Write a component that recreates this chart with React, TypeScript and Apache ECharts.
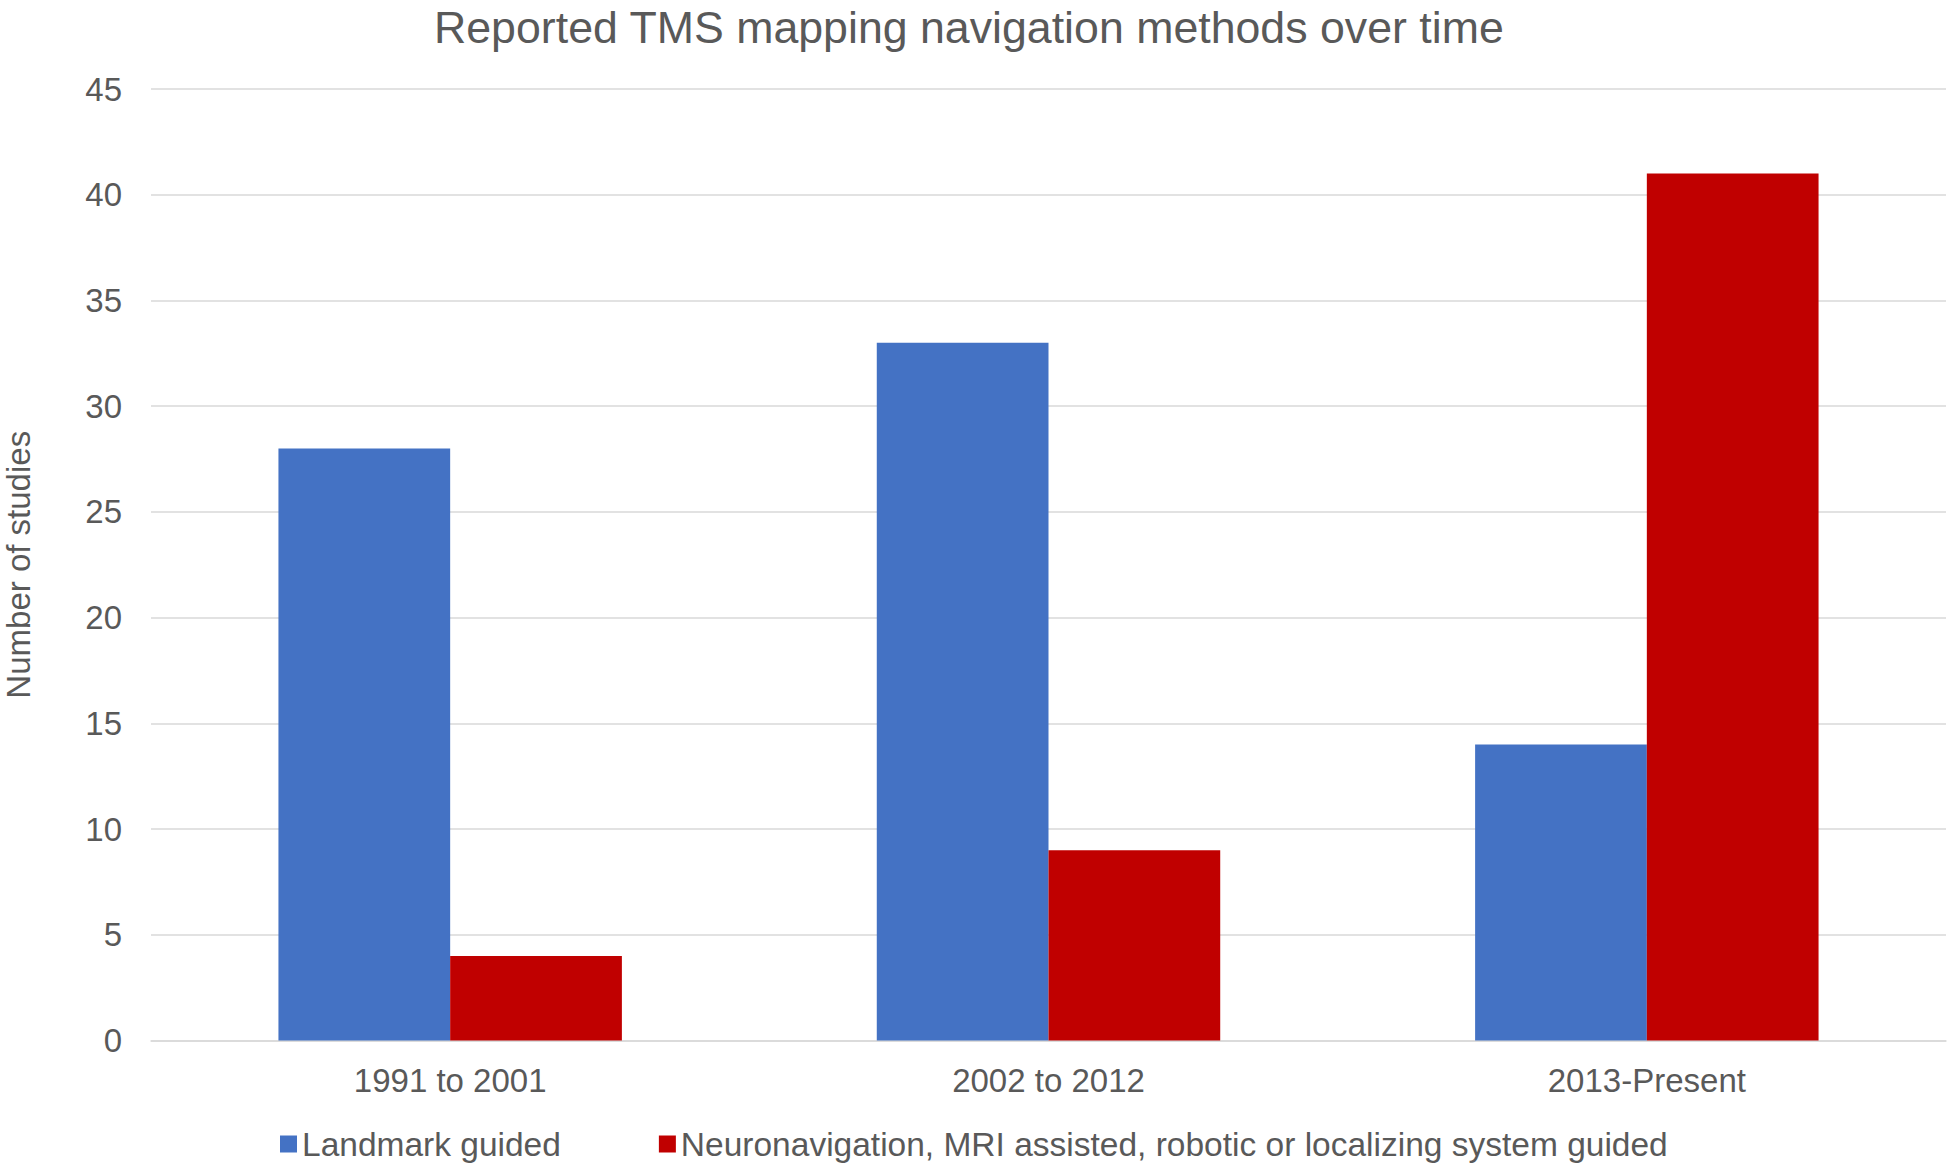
import React, { useEffect, useRef } from "react";
import * as echarts from "echarts";

const title = "Reported TMS mapping navigation methods over time";
const categories = ["1991 to 2001", "2002 to 2012", "2013-Present"];
const landmarkName = "Landmark guided";
const neuroName = "Neuronavigation, MRI assisted, robotic or localizing system guided";
const landmarkValues = [28, 33, 14];
const neuroValues = [4, 9, 41];
const yAxisName = "Number of studies";

const FONT = "'Liberation Sans', Arial, sans-serif";
const TEXT = "#595959";
const GRID = "#D9D9D9";

export default function App() {
  const ref = useRef<HTMLDivElement>(null);
  useEffect(() => {
    document.body.style.margin = "0";
    document.body.style.overflow = "hidden";
    if (!ref.current) return;
    const chart = echarts.init(ref.current, undefined, { renderer: "svg" });
    chart.setOption({
      animation: false,
      backgroundColor: "#ffffff",
      textStyle: { fontFamily: FONT },
      title: {
        text: title,
        left: 434,
        top: 5,
        padding: 0,
        textStyle: { fontFamily: FONT, fontSize: 44.7, fontWeight: "normal", color: TEXT },
      },
      legend: {
        left: 280,
        top: 1127,
        padding: 0,
        itemWidth: 17,
        itemHeight: 17,
        itemGap: 98,
        icon: "rect",
        textStyle: { fontFamily: FONT, fontSize: 33.5, color: TEXT },
        data: [landmarkName, neuroName],
      },
      grid: {
        left: 151,
        right: 4,
        top: 89,
        bottom: 123.5,
        containLabel: false,
        outerBoundsMode: "none",
      },
      xAxis: {
        type: "category",
        data: categories,
        axisLine: { show: true, lineStyle: { color: GRID, width: 1.5 } },
        axisTick: { show: false },
        axisLabel: { fontFamily: FONT, fontSize: 33, color: TEXT, margin: 23 },
      },
      yAxis: {
        type: "value",
        min: 0,
        max: 45,
        interval: 5,
        name: yAxisName,
        nameLocation: "middle",
        nameRotate: 90,
        nameGap: 116,
        nameTextStyle: { fontFamily: FONT, fontSize: 33, color: TEXT },
        axisLine: { show: false },
        axisTick: { show: false },
        axisLabel: { fontFamily: FONT, fontSize: 33, color: TEXT, margin: 29 },
        splitLine: { show: true, lineStyle: { color: GRID, width: 1.5 } },
      },
      series: [
        {
          name: landmarkName,
          type: "bar",
          data: landmarkValues,
          itemStyle: { color: "#4472C4" },
          barGap: "0%",
          barCategoryGap: "42.6%",
        },
        {
          name: neuroName,
          type: "bar",
          data: neuroValues,
          itemStyle: { color: "#C00000" },
          barGap: "0%",
          barCategoryGap: "42.6%",
        },
      ],
    });
    return () => chart.dispose();
  }, []);
  return <div ref={ref} style={{ width: 1950, height: 1164 }} />;
}
